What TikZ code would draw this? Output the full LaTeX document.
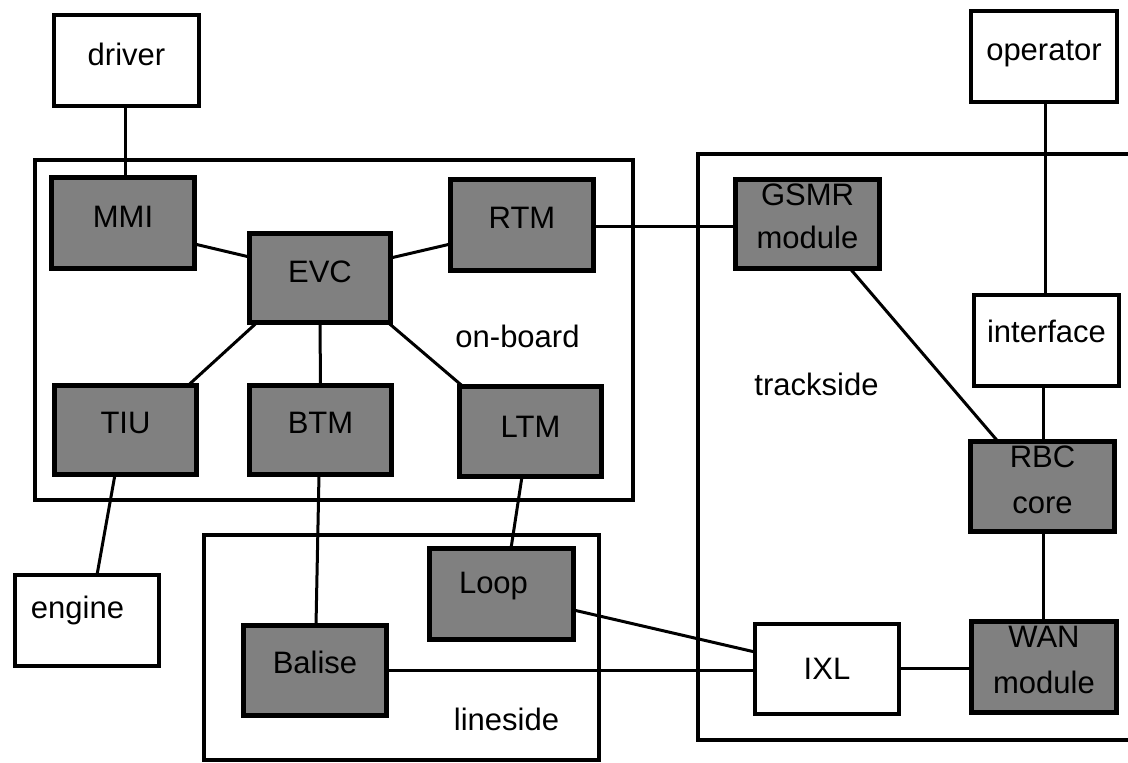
\documentclass[tikz,border=0pt]{standalone}
\usepackage{fontspec}
\setmainfont{Liberation Sans}
\usetikzlibrary{calc,backgrounds}
\definecolor{unitgray}{RGB}{128,128,128}
% zero-size label: [horizontal kern]{baseline raise}{text}, centred on the node centre
\newcommand\boxlabel[3][0pt]{\raisebox{#2}[0pt][0pt]{\makebox[0pt]{\kern#1\relax#3}}}

\begin{document}
\begin{tikzpicture}[x=1pt,y=-1pt,
  every node/.style={font=\fontsize{31}{37}\selectfont, inner sep=0pt, outer sep=0pt},
  unitbox/.style={draw, fill=unitgray, line width=5pt},
  actorbox/.style={draw, fill=white, line width=4pt},
  zonebox/.style={draw, line width=3.5pt},
  wireline/.style={line width=3pt},
  boxsize/.style 2 args={minimum width=#1, minimum height=#2}
]
\useasboundingbox (0,0) rectangle (1128,763);
\clip (0,0) rectangle (1128,763);

% system domains
\node[zonebox, boxsize={598}{340}] (onboard) at (334,330) {};
\node[zonebox, boxsize={442}{586}] (trackside) at (919,447) {};
\node[zonebox, boxsize={395}{225}] (lineside) at (401.5,647.5) {};

\node[anchor=base] (onboardlabel) at (517.5,347) {on-board};
\node[anchor=base] (tracksidelabel) at (816.5,395) {trackside};
\node[anchor=base] (linesidelabel) at (506.5,730) {lineside};

% external actors
\node[actorbox, boxsize={145}{91}] (driver) at (126.5,60.5) {\boxlabel{-4.5pt}{driver}};
\node[actorbox, boxsize={146}{91}] (operator) at (1044,56.5) {\boxlabel{-3.5pt}{operator}};
\node[actorbox, boxsize={144}{91}] (engine) at (87,620.5) {\boxlabel[-19pt]{2.5pt}{engine}};

% on-board units
\node[unitbox, boxsize={143}{91}] (MMI) at (123,223) {\boxlabel{-4pt}{MMI}};
\node[unitbox, boxsize={141}{89}] (EVC) at (320,278) {\boxlabel{-4pt}{EVC}};
\node[unitbox, boxsize={143}{91}] (RTM) at (522,225) {\boxlabel{-3pt}{RTM}};
\node[unitbox, boxsize={142}{89}] (TIU) at (125.5,430) {\boxlabel{-3pt}{TIU}};
\node[unitbox, boxsize={142}{89}] (BTM) at (320.5,430) {\boxlabel{-3pt}{BTM}};
\node[unitbox, boxsize={142}{90}] (LTM) at (530.5,431.5) {\boxlabel{-5.5pt}{LTM}};

% trackside units
\node[unitbox, boxsize={144}{89}] (GSMR) at (807.5,224) {\boxlabel{19pt}{GSMR}\boxlabel{-24pt}{module}};
\node[actorbox, boxsize={145}{91}] (interface) at (1046.5,340.5) {\boxlabel{-1.5pt}{interface}};
\node[unitbox, boxsize={144}{90}] (RBC) at (1042.5,486.5) {\boxlabel{19.5pt}{RBC}\boxlabel{-26.5pt}{core}};
\node[unitbox, boxsize={145}{91}] (WAN) at (1044,667) {\boxlabel{20pt}{WAN}\boxlabel{-26pt}{module}};
\node[actorbox, boxsize={144}{90}] (IXL) at (827,669) {\boxlabel{-10pt}{IXL}};

% lineside units
\node[unitbox, boxsize={144}{91}] (Loop) at (501.5,594) {\boxlabel[-16pt]{1pt}{Loop}};
\node[unitbox, boxsize={143}{90}] (Balise) at (315,670.5) {\boxlabel{-2.5pt}{Balise}};

% connections
\begin{pgfonlayer}{background}
\draw[wireline] ($(driver.south)+(-1.5,0)$) -- ($(MMI.north)+(2,0)$);
\draw[wireline] ($(MMI.east)+(0,21)$) -- ($(EVC.west)+(0,-21)$);
\draw[wireline] ($(EVC.east)+(0,-20)$) -- ($(RTM.west)+(0,19)$);
\draw[wireline] ($(EVC.south)+(-63,0)$) -- ($(TIU.north)+(62.5,0)$);
\draw[wireline] (EVC.south) -- (BTM.north);
\draw[wireline] ($(EVC.south)+(68,0)$) -- ($(LTM.north)+(-67.5,0)$);
\draw[wireline] ($(RTM.east)+(0,1)$) -- ($(GSMR.west)+(0,2)$);
\draw[wireline] ($(GSMR.south)+(42.5,0)$) -- ($(RBC.north)+(-44.5,0)$);
\draw[wireline] ($(operator.south)+(1,0)$) -- ($(interface.north)+(-1.5,0)$);
\draw[wireline] ($(interface.south)+(-3.5,0)$) -- ($(RBC.north)+(0.5,0)$);
\draw[wireline] ($(RBC.south)+(0.5,0)$) -- ($(WAN.north)+(-1,0)$);
\draw[wireline] ($(IXL.east)+(0,-1)$) -- ($(WAN.west)+(0,1)$);
\draw[wireline] ($(TIU.south)+(-10.5,0)$) -- ($(engine.north)+(10,0)$);
\draw[wireline] ($(BTM.south)+(-1.5,0)$) -- ($(Balise.north)+(1,0)$);
\draw[wireline] ($(LTM.south)+(-8.5,0)$) -- ($(Loop.north)+(9.5,0)$);
\draw[wireline] ($(Loop.east)+(0,16)$) -- ($(IXL.west)+(0,-17)$);
\draw[wireline] ($(Balise.east)+(0,-0.5)$) -- ($(IXL.west)+(0,1)$);
\end{pgfonlayer}
\end{tikzpicture}
\end{document}
